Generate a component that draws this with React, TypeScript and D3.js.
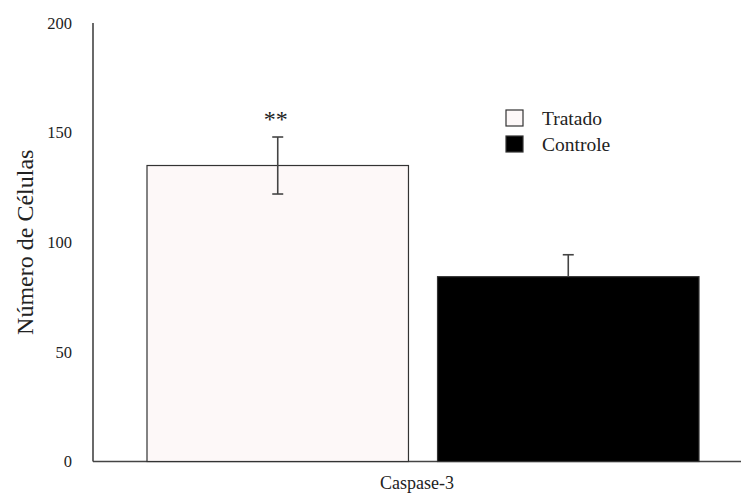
// @ts-nocheck
import { useRef, useEffect } from "react";
import * as d3 from "d3";

const groups = ["Tratado", "Controle"];
const means = [135, 84.3];
const errors = [13, 10];
const fills = ["#fdf8f8", "#000000"];
const yTicks = [0, 50, 100, 150, 200];
const category = "Caspase-3";
const significance = ["**", ""];

const FONT = "'Liberation Serif', 'DejaVu Serif', serif";

const App = () => {
  const svgRef = useRef();

  useEffect(() => {
    const width = 741;
    const height = 495;
    const svg = d3.select(svgRef.current);
    svg.selectAll("*").remove();
    svg.attr("width", width).attr("height", height);

    const y = d3.scaleLinear().domain([0, 200]).range([461.5, 23]);
    const x = d3.scaleBand().domain(groups).range([147, 699]).paddingInner(0.1).paddingOuter(0);

    // eixo y
    svg.append("line").attr("x1", 93).attr("x2", 93).attr("y1", y(200)).attr("y2", y(0))
      .attr("stroke", "#444").attr("stroke-width", 1.6);
    // eixo x
    svg.append("line").attr("x1", 93).attr("x2", 741).attr("y1", y(0)).attr("y2", y(0))
      .attr("stroke", "#444").attr("stroke-width", 1.6);

    svg.selectAll(".tick").data(yTicks).enter().append("text")
      .attr("x", 72).attr("y", (d) => y(d)).attr("dy", "0.35em")
      .attr("font-family", FONT)
      .attr("text-anchor", "end").attr("font-size", 16.5).attr("fill", "#222")
      .text((d) => d);

    const bars = groups.map((g, i) => ({ g, v: means[i], e: errors[i], fill: fills[i], sig: significance[i] }));

    svg.selectAll(".bar").data(bars).enter().append("rect")
      .attr("x", (d) => x(d.g)).attr("y", (d) => y(d.v))
      .attr("width", x.bandwidth()).attr("height", (d) => y(0) - y(d.v))
      .attr("fill", (d) => d.fill).attr("stroke", "#333").attr("stroke-width", 1.2);

    const cx = (d) => x(d.g) + x.bandwidth() / 2;
    const err = svg.append("g").attr("stroke", "#444").attr("stroke-width", 1.6);
    bars.forEach((d, i) => {
      const lo = i === 0 ? y(d.v - d.e) : y(d.v);
      err.append("line").attr("x1", cx(d)).attr("x2", cx(d)).attr("y1", y(d.v + d.e)).attr("y2", lo);
      err.append("line").attr("x1", cx(d) - 5.5).attr("x2", cx(d) + 5.5).attr("y1", y(d.v + d.e)).attr("y2", y(d.v + d.e));
      if (i === 0) err.append("line").attr("x1", cx(d) - 5.5).attr("x2", cx(d) + 5.5).attr("y1", lo).attr("y2", lo);
    });

    svg.selectAll(".sig").data(bars).enter().append("text")
      .attr("x", (d) => cx(d) - 2).attr("y", (d) => y(d.v + d.e) - 10)
      .attr("font-family", FONT)
      .attr("text-anchor", "middle").attr("font-size", 24).attr("fill", "#222")
      .text((d) => d.sig);

    // legenda
    const leg = svg.append("g").attr("transform", "translate(506,110)");
    groups.forEach((g, i) => {
      leg.append("rect").attr("x", 0).attr("y", i * 26).attr("width", 17).attr("height", 16)
        .attr("fill", fills[i]).attr("stroke", "#333").attr("stroke-width", 1.2);
      leg.append("text").attr("x", 36).attr("y", i * 26 + 8).attr("dy", "0.35em")
        .attr("font-family", FONT)
        .attr("font-size", 19.5).attr("fill", "#222").text(g);
    });

    svg.append("text").attr("transform", `translate(33,${(y(0) + y(200)) / 2}) rotate(-90)`)
      .attr("font-family", FONT)
      .attr("text-anchor", "middle").attr("font-size", 24).attr("fill", "#222")
      .text("Número de Células");

    svg.append("text").attr("x", 417).attr("y", 489)
      .attr("font-family", FONT)
      .attr("text-anchor", "middle").attr("font-size", 18).attr("fill", "#222").text(category);
  }, []);

  return (
    <svg ref={svgRef} style={{ position: "absolute", left: 0, top: 0 }}></svg>
  );
};

export default App;
